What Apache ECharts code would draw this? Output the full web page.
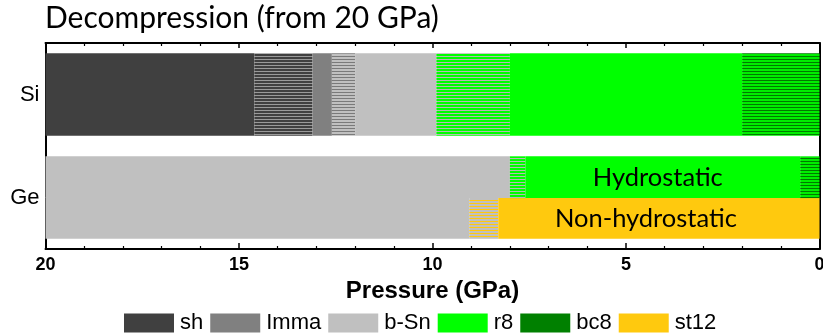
<!DOCTYPE html>
<html>
<head>
<meta charset="utf-8">
<script src="https://cdn.jsdelivr.net/npm/echarts@6/dist/echarts.min.js"></script>
<style>
  html, body { margin: 0; padding: 0; background: #fff; }
  #chart { width: 823px; height: 336px; }
</style>
</head>
<body>
<div id="chart"></div>
<script>
// Materials on the vertical axis
const categories = ['Si', 'Ge'];

// Phase names shown in the legend
const phaseNames = ['sh', 'Imma', 'b-Sn', 'r8', 'bc8', 'st12'];

// Si: phase boundaries (GPa) on decompression and the phase(s) in each interval
const siEdges = [20, 14.6, 13.1, 12.6, 12.0, 9.9, 8.0, 2.0, 0];
const siPhases = ['sh', 'sh+Imma', 'Imma', 'Imma+b-Sn', 'b-Sn', 'b-Sn+r8', 'r8', 'r8+bc8'];

// Ge, hydrostatic run (upper half of the bar)
const geHydroEdges = [20, 8.0, 7.6, 0.5, 0];
const geHydroPhases = ['b-Sn', 'b-Sn+r8', 'r8', 'r8+bc8'];

// Ge, non-hydrostatic run (lower half of the bar)
const geNonHydroEdges = [20, 9.05, 8.3, 0];
const geNonHydroPhases = ['b-Sn', 'b-Sn+st12', 'st12'];

// Names written on the Ge runs
const geRunNames = ['Hydrostatic', 'Non-hydrostatic'];

const colors = {
  'sh': '#404040',
  'Imma': '#808080',
  'b-Sn': '#c0c0c0',
  'r8': '#00ff00',
  'bc8': '#008000',
  'st12': '#ffc90e'
};

// Colour pairs for coexistence stripes: [base, line]
const stripeColors = {
  'sh+Imma': ['#404040', '#9a9a9a'],
  'Imma+b-Sn': ['#c0c0c0', '#7a7a7a'],
  'b-Sn+r8': ['#00ff00', '#b8b8b8'],
  'r8+bc8': ['#00ee00', '#007a00'],
  'b-Sn+st12': ['#c0c0c0', '#ffc90e']
};

function stripePattern(base, line) {
  const c = document.createElement('canvas');
  c.width = 4; c.height = 3;
  const ctx = c.getContext('2d');
  ctx.fillStyle = base; ctx.fillRect(0, 0, 4, 3);
  ctx.fillStyle = line; ctx.fillRect(0, 2, 4, 1);
  return { image: c, repeat: 'repeat' };
}
const patterns = {};
Object.keys(stripeColors).forEach(k => {
  patterns[k] = stripePattern(stripeColors[k][0], stripeColors[k][1]);
});
function fillFor(phase) {
  return patterns[phase] || colors[phase];
}

// Segment rows: [categoryIndex, fromP, toP, subRow, subRowCount, phase, runName]
function segments(catIdx, edges, phases, sub, subCount, runName) {
  const out = [];
  for (let i = 0; i < phases.length; i++) {
    out.push([catIdx, edges[i], edges[i + 1], sub, subCount, phases[i], runName || '']);
  }
  return out;
}
const segData = []
  .concat(segments(0, siEdges, siPhases, 0, 1))
  .concat(segments(1, geHydroEdges, geHydroPhases, 0, 2, geRunNames[0]))
  .concat(segments(1, geNonHydroEdges, geNonHydroPhases, 1, 2, geRunNames[1]));

// Horizontal nudge of each run name from the centre of its main phase block
const runLabelShift = { 'Hydrostatic': -5, 'Non-hydrostatic': -13 };

function renderSegment(params, api) {
  const cat = api.value(0);
  const p0 = api.coord([api.value(1), cat]);
  const p1 = api.coord([api.value(2), cat]);
  const band = api.size([0, 1])[1] * 0.8;
  const sub = api.value(3), n = api.value(4);
  const idx = params.dataIndex;
  const phase = segData[idx][5];
  const run = segData[idx][6];
  const h = band / n;
  const y = p0[1] - band / 2 + sub * h;
  const x = Math.min(p0[0], p1[0]);
  const w = Math.abs(p1[0] - p0[0]);
  // upper sub-rows overlap the next one slightly so no seam shows
  const hh = sub < n - 1 ? h + 0.6 : h;
  const children = [{
    type: 'rect',
    shape: { x: x, y: y, width: w, height: hh },
    style: { fill: fillFor(phase) },
    z2: n - sub
  }];
  // run name sits on the widest single-phase block of each Ge run
  if (run && (phase === 'r8' || phase === 'st12')) {
    children.push({
      type: 'text',
      style: {
        x: x + w / 2 + runLabelShift[run],
        y: y + h / 2 + 1,
        text: run,
        fill: '#000',
        font: '25.5px Lato, "Open Sans", sans-serif',
        align: 'center',
        verticalAlign: 'middle'
      },
      z2: 10
    });
  }
  return { type: 'group', children: children };
}

const axisFont = '"Liberation Sans", Arial, sans-serif';

const chart = echarts.init(document.getElementById('chart'), null, { renderer: 'canvas' });

const legendSeries = phaseNames.map(name => ({
  name: name,
  type: 'bar',
  data: [],
  itemStyle: { color: colors[name] }
}));

chart.setOption({
  animation: false,
  backgroundColor: '#fff',
  title: {
    text: 'Decompression (from 20 GPa)',
    left: 45,
    top: 3,
    padding: 0,
    textStyle: {
      fontFamily: 'Lato, "Open Sans", sans-serif',
      fontWeight: 'normal',
      fontSize: 30,
      color: '#000'
    }
  },
  legend: {
    data: phaseNames,
    left: 124,
    top: 312,
    padding: 0,
    itemWidth: 50,
    itemHeight: 19,
    itemGap: 7,
    icon: 'rect',
    selectedMode: false,
    textStyle: { fontFamily: axisFont, fontSize: 22, color: '#000', padding: [0, 0, 0, 1] }
  },
  grid: {
    left: 45.5, right: 3.5, top: 43, bottom: 87,
    containLabel: false,
    outerBoundsMode: 'none'
  },
  xAxis: [{
    type: 'value',
    position: 'bottom',
    min: 0, max: 20, interval: 5,
    inverse: true,
    splitLine: { show: false },
    axisLine: { show: true, onZero: false, lineStyle: { color: '#000', width: 2 } },
    axisTick: { show: true, inside: true, length: 6, lineStyle: { color: '#000', width: 1.5 } },
    minorTick: { show: true, splitNumber: 5, length: 3, lineStyle: { color: '#000', width: 1.2 } },
    axisLabel: { margin: 7, color: '#000', fontFamily: axisFont, fontWeight: 'bold', fontSize: 18 },
    name: 'Pressure (GPa)',
    nameLocation: 'middle',
    nameGap: 27,
    nameTextStyle: { color: '#000', fontFamily: axisFont, fontWeight: 'bold', fontSize: 24, verticalAlign: 'top' }
  }, {
    type: 'value',
    position: 'top',
    min: 0, max: 20, interval: 5,
    inverse: true,
    splitLine: { show: false },
    axisLine: { show: true, onZero: false, lineStyle: { color: '#000', width: 2 } },
    axisTick: { show: true, inside: true, length: 5, lineStyle: { color: '#000', width: 1.5 } },
    minorTick: { show: true, splitNumber: 5, length: 3, lineStyle: { color: '#000', width: 1.2 } },
    axisLabel: { show: false }
  }],
  yAxis: [{
    type: 'category',
    data: categories,
    inverse: true,
    position: 'left',
    axisLine: { show: true, onZero: false, lineStyle: { color: '#000', width: 2 } },
    axisTick: { show: false },
    splitLine: { show: false },
    axisLabel: { margin: 6, color: '#000', fontFamily: axisFont, fontSize: 22 }
  }, {
    type: 'category',
    data: categories,
    inverse: true,
    position: 'right',
    axisLine: { show: true, onZero: false, lineStyle: { color: '#000', width: 2 } },
    axisTick: { show: false },
    splitLine: { show: false },
    axisLabel: { show: false }
  }],
  series: legendSeries.concat([{
    type: 'custom',
    name: 'phases',
    xAxisIndex: 0,
    yAxisIndex: 0,
    renderItem: renderSegment,
    encode: { x: [1, 2], y: 0 },
    data: segData.map(d => d.slice(0, 5)),
    z: 1
  }])
});
</script>
</body>
</html>
